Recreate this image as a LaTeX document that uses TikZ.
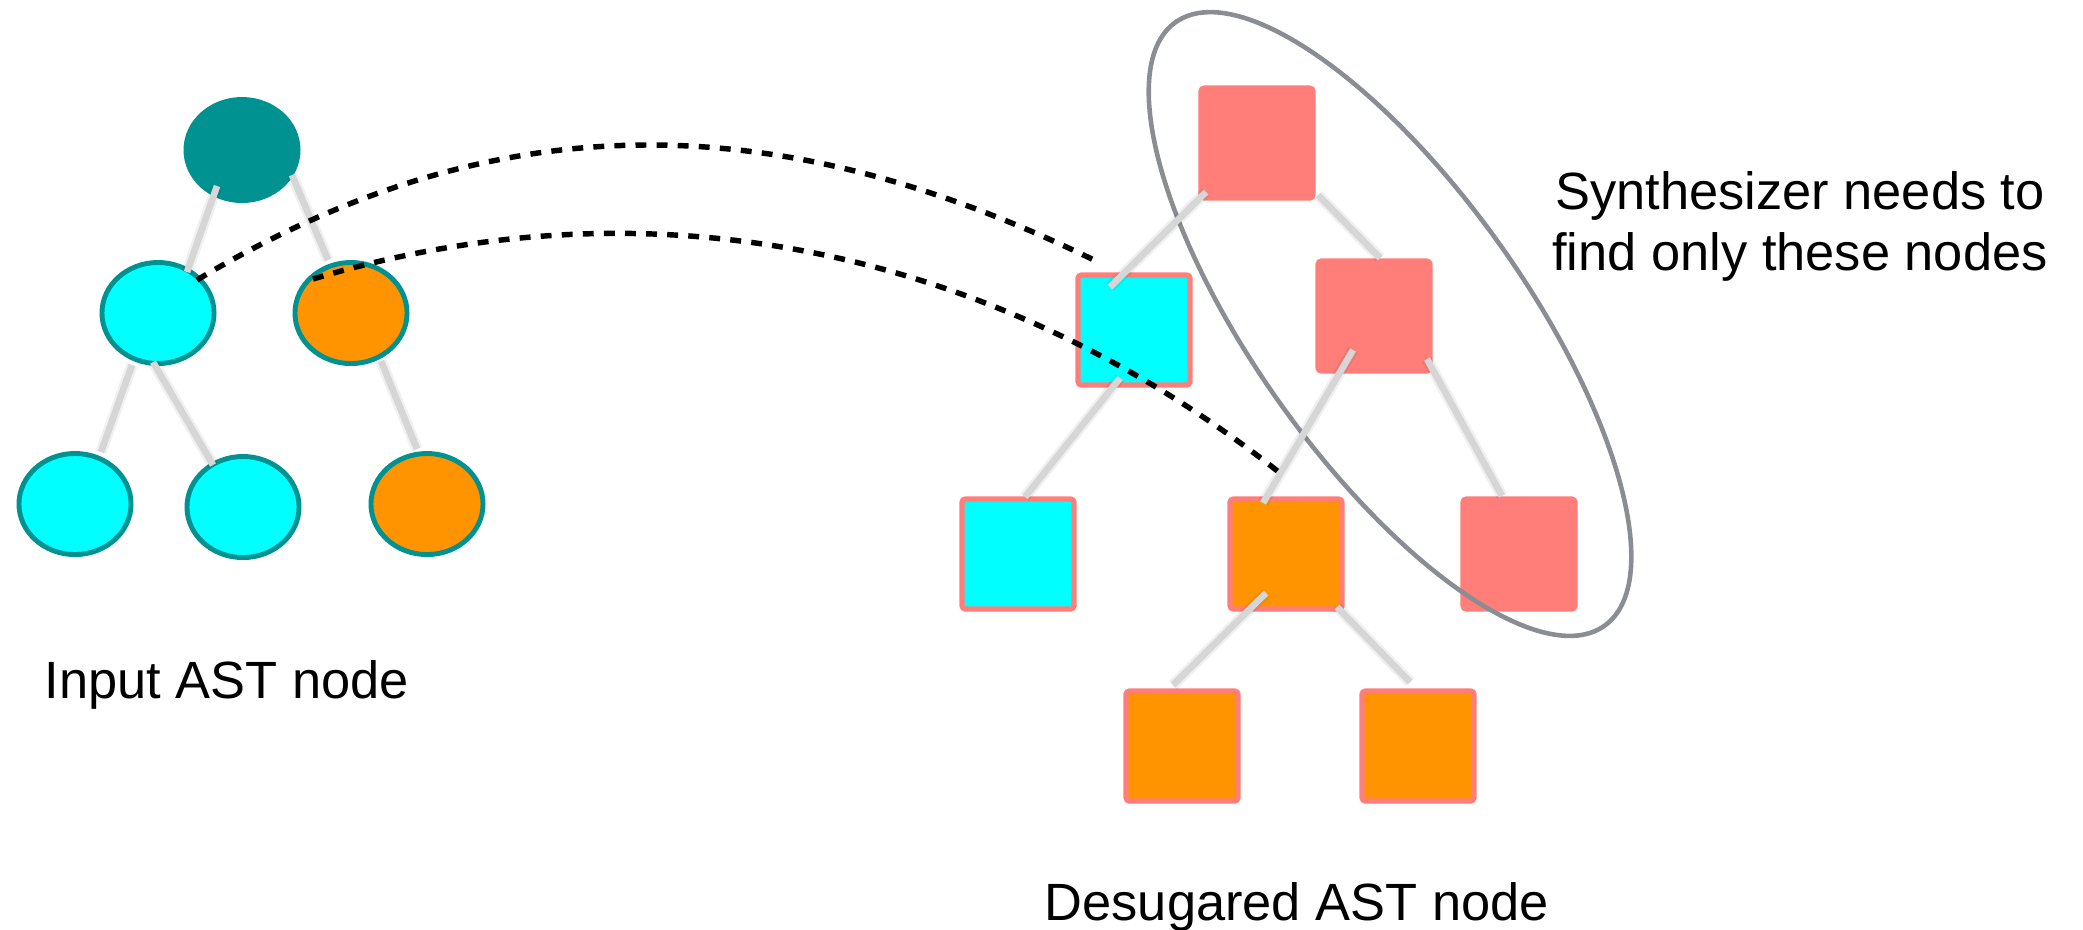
\documentclass[tikz,border=0pt]{standalone}
\usepackage{fontspec}
\setmainfont{Liberation Sans}
\usetikzlibrary{shapes.geometric}

\definecolor{tealdark}{RGB}{0,145,145}
\definecolor{aqua}{RGB}{0,255,255}
\definecolor{tangerine}{RGB}{255,147,0}
\definecolor{salmon}{RGB}{255,126,121}
\definecolor{edgegray}{RGB}{214,214,214}
\definecolor{ringgray}{RGB}{138,141,145}

\begin{document}
\begin{tikzpicture}[x=0.01cm, y=-0.01cm,
  astcircle/.style={ellipse, draw=tealdark, line width=1.4pt,
    minimum width=1.12cm, minimum height=1.01cm, inner sep=0pt},
  astsquare/.style={rectangle, draw=salmon, line width=1.5pt, rounded corners=1pt,
    minimum width=1.12cm, minimum height=1.10cm, inner sep=0pt},
  edgeshade/.style={draw=black, draw opacity=0.06, line width=3.2pt},
  treeedge/.style={draw=edgegray, line width=1.9pt},
  mapping/.style={draw=black, line width=1.55pt, dash pattern=on 3.1pt off 2.9pt},
  note/.style={font=\fontsize{14.9pt}{17.1pt}\selectfont, inner sep=0pt}
]
\useasboundingbox (0,0) rectangle (2083,929);

% input tree
\node[astcircle, fill=tealdark]  (root) at (242,150) {};
\node[astcircle, fill=aqua]      (ml)   at (158,313) {};
\node[astcircle, fill=tangerine] (mr)   at (351,313) {};
\node[astcircle, fill=aqua]      (bl)   at (75,504)  {};
\node[astcircle, fill=aqua]      (bm)   at (243,507) {};
\node[astcircle, fill=tangerine] (br)   at (427,504) {};

% desugared tree
\node[astsquare, fill=salmon]    (t)  at (1257,143) {};
\node[astsquare, fill=aqua]      (c1) at (1134,330) {};
\node[astsquare, fill=salmon]    (p2) at (1374,316) {};
\node[astsquare, fill=aqua]      (c2) at (1018,554) {};
\node[astsquare, fill=tangerine] (o1) at (1286,554) {};
\node[astsquare, fill=salmon]    (p3) at (1519,554) {};
\node[astsquare, fill=tangerine] (o2) at (1182,746) {};
\node[astsquare, fill=tangerine] (o3) at (1418,746) {};

% selection ring
\node[ellipse, draw=ringgray, line width=1.3pt, minimum width=7.4cm,
  minimum height=2.71cm, rotate=-54.6, inner sep=0pt] (ring) at (1390,324) {};

% tree edges: a faint soft band under a light grey stroke
\foreach \ax/\ay/\a/\bx/\by/\b in {
    -25/36/root/29/-41/ml, 50/25/root/-23/-53/mr,
    -26/52/ml/26/-52/bl, -5/49/ml/-30/-42/bm, 30/48/mr/-10/-55/br,
    -51/49/t/-24/-43/c1, 61/52/t/6/-58/p2, -14/48/c1/7/-57/c2,
    -21/34/p2/-23/-51/o1, 53/43/p2/-17/-58/p3,
    -20/39/o1/-9/-61/o2, 51/53/o1/-8/-64/o3} {
  \draw[edgeshade] ([shift={(\ax,\ay)}]\a.center) -- ([shift={(\bx,\by)}]\b.center);
  \draw[treeedge]  ([shift={(\ax,\ay)}]\a.center) -- ([shift={(\bx,\by)}]\b.center);
}

% node correspondences
\draw[mapping] ([shift={(39,-33)}]ml.center) .. controls +(315,-189) and +(-300,-147) .. ([shift={(-36,-68)}]c1.center);
\draw[mapping] ([shift={(-38,-34)}]mr.center) .. controls +(380,-114) and +(-250,-200) .. ([shift={(-1,-77)}]o1.center);

% captions
\node[note, anchor=base west] (inlab)  at (44,698)   {Input AST node};
\node[note, anchor=base west] (outlab) at (1044,920) {Desugared AST node};
\node[note, align=center, anchor=base] (synlab) at (1800,270) {Synthesizer needs to\\find only these nodes};
\end{tikzpicture}
\end{document}
